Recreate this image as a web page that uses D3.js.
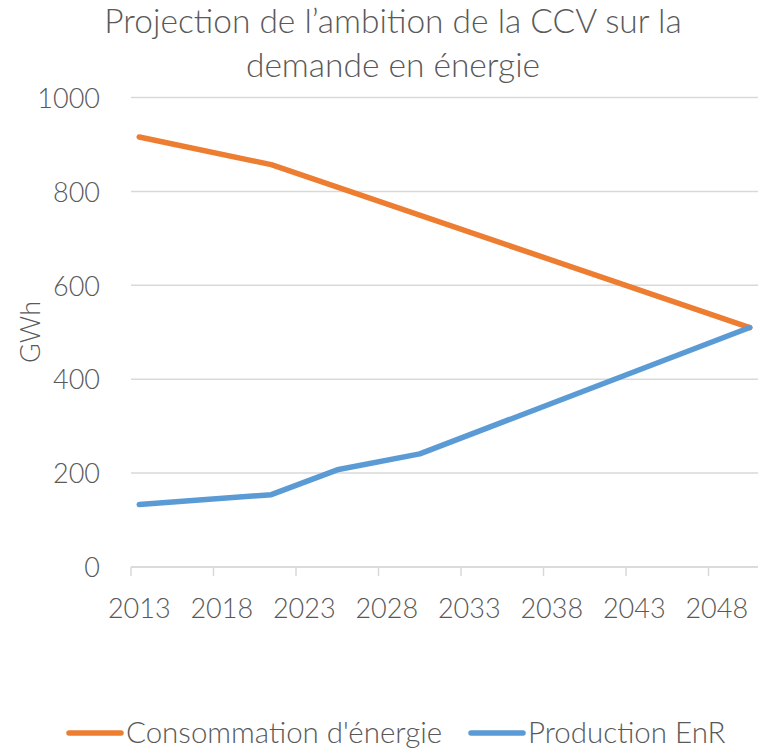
<!DOCTYPE html>
<html>
<head>
<meta charset="utf-8">
<script src="https://cdn.jsdelivr.net/npm/d3@7"></script>
<style>
  body { margin: 0; background: #fff; }
  text { font-family: Lato, "Open Sans", sans-serif; font-weight: 300; fill: #595959; }
</style>
</head>
<body>
<div id="chart"></div>
<script>
// Data
var consoYears = [2013, 2021, 2050];
var consoValues = [916, 857, 510];
var enrYears = [2013, 2021, 2025, 2030, 2050];
var enrValues = [133, 154, 207, 241, 510];
var xTicks = [2013, 2018, 2023, 2028, 2033, 2038, 2043, 2048];
var yTicks = [0, 200, 400, 600, 800, 1000];
var seriesNames = ["Consommation d'énergie", "Production EnR"];
var titleLines = ["Projection de l\u2019ambition de la CCV sur la", "demande en énergie"];

var svgWidth = 759;
var svgHeight = 750;
var margin = { top: 97.5, right: 1, bottom: 183, left: 131 };
var width = svgWidth - margin.left - margin.right;
var height = svgHeight - margin.top - margin.bottom;

var colors = ["#ED7D31", "#5B9BD5"];

var svg = d3.select("#chart")
  .append("svg")
  .attr("width", svgWidth)
  .attr("height", svgHeight);

// Title
svg.selectAll(".title")
  .data(titleLines)
  .enter()
  .append("text")
  .attr("class", "title")
  .attr("x", 393)
  .attr("y", (d, i) => 33 + i * 44)
  .attr("text-anchor", "middle")
  .attr("font-size", "33.5px")
  .text(d => d);

var chartGroup = svg.append("g")
  .attr("transform", `translate(${margin.left}, ${margin.top})`);

// one category per year, points in the middle of each
var xScale = d3.scaleLinear().domain([2012.5, 2050.5]).range([0, width]);
var yScale = d3.scaleLinear().domain([0, 1000]).range([height, 0]);

// Gridlines
chartGroup.selectAll(".grid")
  .data(yTicks)
  .enter()
  .append("line")
  .attr("x1", 0)
  .attr("x2", width)
  .attr("y1", d => yScale(d))
  .attr("y2", d => yScale(d))
  .attr("stroke", "#d9d9d9")
  .attr("stroke-width", 1.5);

// Y axis labels
var yAxis = d3.axisLeft(yScale).tickValues(yTicks).tickSize(0).tickPadding(31).tickFormat(d3.format("d"));
var yAxisG = chartGroup.append("g").call(yAxis);
yAxisG.select(".domain").remove();
yAxisG.selectAll("text")
  .attr("font-size", "27px")
  .attr("dy", "0.36em")
  .style("font-family", "Lato, sans-serif");

// X axis: tick marks between categories, labels on the category
var xAxisG = chartGroup.append("g")
  .attr("transform", `translate(0, ${height})`);

xAxisG.append("line")
  .attr("x1", 0)
  .attr("x2", width)
  .attr("stroke", "#d9d9d9")
  .attr("stroke-width", 1.5);

xAxisG.selectAll(".tick-mark")
  .data(xTicks)
  .enter()
  .append("line")
  .attr("x1", d => xScale(d - 0.5))
  .attr("x2", d => xScale(d - 0.5))
  .attr("y1", 0)
  .attr("y2", 9)
  .attr("stroke", "#d9d9d9")
  .attr("stroke-width", 1.5);

xAxisG.selectAll(".tick-label")
  .data(xTicks)
  .enter()
  .append("text")
  .attr("x", d => xScale(d))
  .attr("y", 51)
  .attr("text-anchor", "middle")
  .attr("font-size", "27px")
  .text(d => d);

// Y axis title
chartGroup.append("text")
  .attr("transform", "rotate(-90)")
  .attr("x", -(332 - margin.top))
  .attr("y", 40 - margin.left)
  .attr("text-anchor", "middle")
  .attr("font-size", "27px")
  .text("GWh");

// Lines
var line = d3.line()
  .x(d => xScale(d[0]))
  .y(d => yScale(d[1]));

var series = [
  d3.zip(consoYears, consoValues),
  d3.zip(enrYears, enrValues)
];

chartGroup.selectAll(".series")
  .data(series)
  .enter()
  .append("path")
  .attr("d", line)
  .attr("fill", "none")
  .attr("stroke", (d, i) => colors[i])
  .attr("stroke-width", 5.5)
  .attr("stroke-linecap", "round")
  .attr("stroke-linejoin", "round");

// Legend
var legendX = [69, 471];
var legend = svg.selectAll(".legend")
  .data(seriesNames)
  .enter()
  .append("g")
  .attr("transform", (d, i) => `translate(${legendX[i]}, 733)`);

legend.append("line")
  .attr("x1", 0)
  .attr("x2", 52)
  .attr("y1", 0)
  .attr("y2", 0)
  .attr("stroke", (d, i) => colors[i])
  .attr("stroke-width", 5.5)
  .attr("stroke-linecap", "round");

legend.append("text")
  .attr("x", 57)
  .attr("y", 10)
  .attr("font-size", "29.5px")
  .text(d => d);
</script>
</body>
</html>
